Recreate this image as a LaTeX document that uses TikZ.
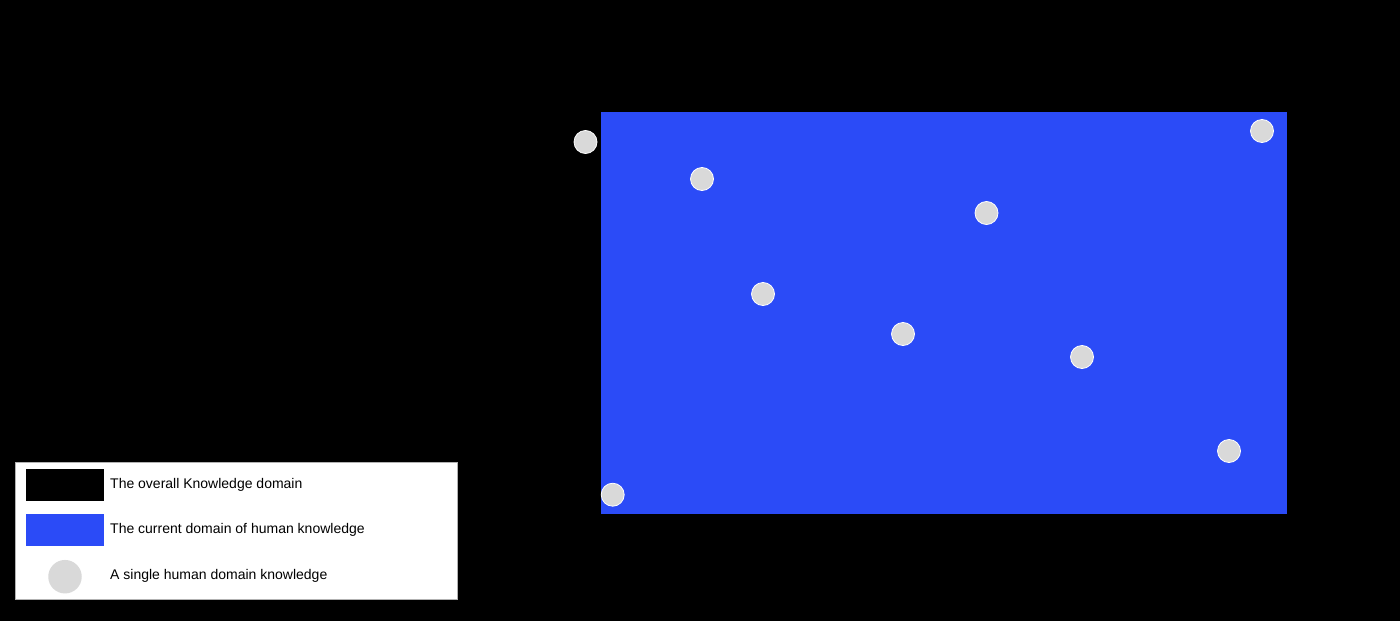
\documentclass[tikz,border=0pt]{standalone}
\usepackage{fontspec}
\setmainfont{Liberation Sans}
\definecolor{kblue}{RGB}{43,75,247}
\definecolor{kgray}{RGB}{217,217,217}
\begin{document}
\begin{tikzpicture}[x=1pt,y=-1pt,
  dot/.style={circle,fill=kgray,draw=white,line width=0.8pt,minimum size=23pt,inner sep=0pt},
  legtext/.style={anchor=base west,inner sep=0pt,font=\fontsize{14}{16}\selectfont,text=black}]
\fill[black] (0,0) rectangle (1400,621);
\useasboundingbox (0,0) rectangle (1400,621);
% current domain
\fill[kblue] (601,112) rectangle (1287,514);
\node[dot] (c1) at (585.5,142) {};
\node[dot] (c2) at (702,179) {};
\node[dot] (c3) at (986.5,213) {};
\node[dot] (c4) at (1262,131) {};
\node[dot] (c5) at (763,294) {};
\node[dot] (c6) at (903,334) {};
\node[dot] (c7) at (1082,357) {};
\node[dot] (c8) at (1229,451) {};
\node[dot] (c9) at (612.7,494.7) {};
% legend
\draw[fill=white,draw=gray!60,line width=0.5pt] (15,462.3) rectangle (457.3,599);
\fill[black] (26,469) rectangle (104,500.7);
\fill[kblue] (26,514) rectangle (104,545.7);
\node[circle,fill=kgray,minimum size=33.5pt,inner sep=0pt] (lc) at (65,576.7) {};
\node[legtext] (t1) at (110,488.3) {The overall Knowledge domain};
\node[legtext] (t2) at (110,533.3) {The current domain of human knowledge};
\node[legtext] (t3) at (110,579) {A single human domain knowledge};
\end{tikzpicture}
\end{document}
